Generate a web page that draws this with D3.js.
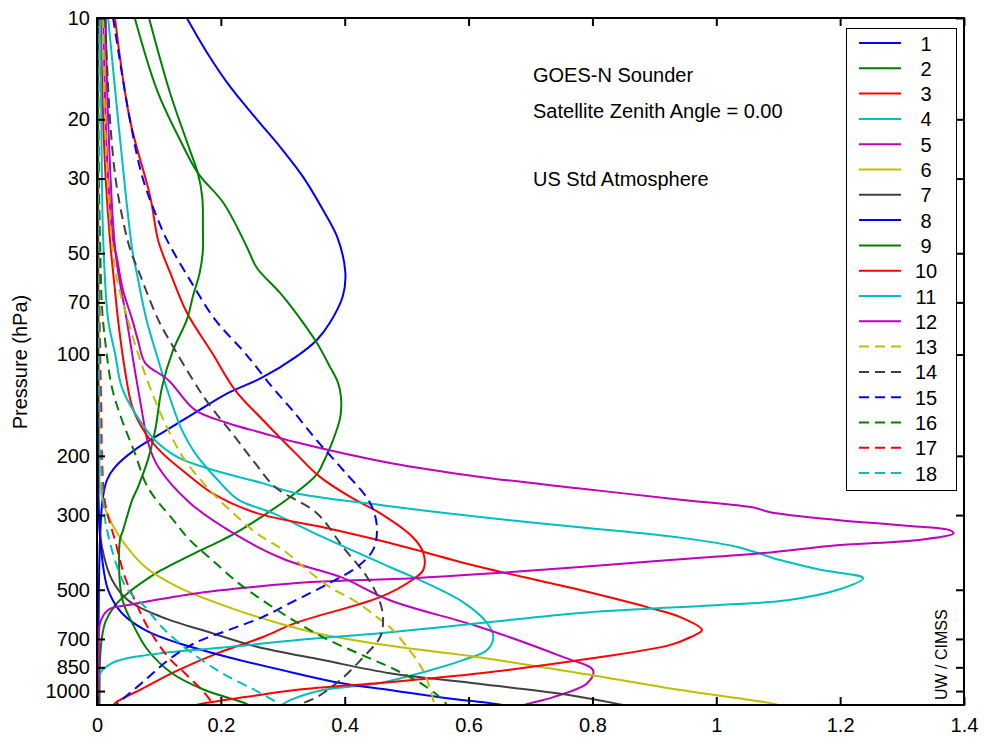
<!DOCTYPE html>
<html>
<head>
<meta charset="utf-8">
<script src="https://d3js.org/d3.v7.min.js"></script>
<style>
  body { margin: 0; background: #fff; }
  text { font-family: "Liberation Sans", Arial, sans-serif; fill: #000; }
</style>
</head>
<body>
<svg width="984" height="740"></svg>
<script>
// weighting functions, [pressure hPa, weight] pairs
var ch1 = [[10,0.145],[12.7,0.178],[16,0.215],[20,0.258],[24.2,0.296],[29.7,0.333],[37.2,0.365],[44.8,0.388],[57,0.401],[67,0.397],[80.5,0.376],[90.5,0.355],[102,0.320],[117,0.267],[130,0.212],[149,0.158],[171,0.105],[192,0.061],[216,0.029],[236,0.016],[270,0.009],[350,0.005],[500,0.003],[1100,0.002]];
var ch2 = [[10,0.061],[16.4,0.097],[23,0.134],[28.9,0.163],[35.4,0.204],[47.9,0.242],[55.2,0.258],[65.7,0.296],[80.5,0.333],[92.3,0.355],[108.6,0.376],[121,0.389],[134,0.394],[153,0.393],[180,0.381],[210,0.365],[227,0.355],[265,0.312],[333,0.231],[356,0.202],[389,0.158],[436,0.105],[458,0.086],[511,0.050],[560,0.028],[620,0.014],[692,0.008],[800,0.005],[1100,0.004]];
var ch3 = [[10,0.029],[20,0.053],[34,0.086],[46,0.099],[57,0.118],[75,0.145],[99,0.186],[127.5,0.223],[156,0.267],[196,0.320],[231,0.360],[265,0.409],[296,0.457],[349,0.510],[389,0.527],[436,0.527],[466,0.510],[526,0.457],[628,0.320],[692,0.267],[771,0.195],[867,0.131],[973,0.078],[1086,0.029],[1100,0.027]];
var ch4 = [[10,0.018],[20,0.034],[49,0.057],[57,0.064],[79,0.080],[104,0.099],[130,0.115],[167.5,0.137],[196,0.158],[236,0.195],[270,0.228],[296,0.284],[349,0.365],[428,0.473],[458,0.510],[544,0.591],[628,0.630],[692,0.640],[755,0.630],[809,0.591],[867,0.538],[946,0.457],[993,0.365],[1064,0.312],[1100,0.298]];
var ch5 = [[10,0.014],[20,0.018],[50,0.030],[79,0.048],[111,0.061],[149,0.073],[182,0.082],[216,0.099],[276,0.150],[349,0.231],[408,0.305],[458,0.393],[537,0.473],[646,0.619],[793,0.753],[867,0.801],[946,0.792],[1042,0.737],[1086,0.700],[1100,0.690]];
var ch6 = [[10,0.002],[100,0.003],[200,0.004],[248,0.005],[296,0.016],[349,0.037],[428,0.078],[491,0.131],[563,0.212],[628,0.292],[673,0.355],[730,0.465],[795,0.619],[885,0.780],[993,0.942],[1086,1.087],[1100,1.100]];
var ch7 = [[10,0.001],[200,0.002],[300,0.003],[373,0.008],[466,0.024],[537,0.050],[603,0.105],[673,0.186],[740,0.260],[809,0.365],[885,0.473],[946,0.605],[1014,0.740],[1086,0.835],[1100,0.850]];
var ch8 = [[10,0.001],[300,0.003],[400,0.008],[501,0.018],[586,0.040],[659,0.078],[720,0.131],[793,0.212],[885,0.320],[946,0.393],[993,0.473],[1050,0.565],[1086,0.635],[1100,0.655]];
var ch9 = [[10,0.084],[16.7,0.118],[24.7,0.150],[29,0.163],[34.1,0.170],[42,0.171],[48.9,0.171],[57,0.166],[67,0.155],[78.9,0.145],[96.9,0.123],[125,0.105],[167.5,0.094],[206,0.082],[248,0.066],[270,0.057],[333,0.042],[356,0.037],[526,0.040],[628,0.057],[755,0.082],[885,0.121],[993,0.174],[1086,0.239],[1100,0.245]];
var ch10 = [[10,0.006],[20,0.010],[30,0.014],[45.7,0.021],[64.4,0.029],[78.9,0.034],[111,0.045],[143,0.057],[171,0.078],[196,0.105],[224,0.142],[258,0.186],[296,0.258],[326,0.365],[363,0.473],[428,0.619],[501,0.780],[563,0.888],[603,0.942],[659,0.977],[692,0.958],[729,0.926],[809,0.780],[885,0.619],[927,0.510],[946,0.457],[993,0.320],[1042,0.239],[1086,0.174],[1100,0.160]];
var ch11 = [[10,0.005],[20,0.007],[30,0.008],[45.7,0.010],[78.9,0.018],[99,0.029],[125,0.040],[149,0.061],[180,0.094],[202,0.131],[220,0.186],[241,0.267],[258,0.320],[280,0.457],[304,0.619],[326,0.780],[350,0.942],[373,1.034],[408,1.103],[436,1.168],[462,1.237],[501,1.195],[537,1.115],[555,1.006],[563,0.942],[586,0.780],[628,0.619],[673,0.457],[706,0.320],[740,0.212],[771,0.105],[798,0.050],[826,0.024],[885,0.005],[1100,0.002]];
var ch12 = [[10,0.010],[20,0.014],[30,0.018],[45.7,0.026],[51.5,0.032],[64.4,0.042],[78.9,0.057],[90.5,0.066],[106,0.078],[119,0.115],[146,0.158],[160,0.212],[171,0.267],[182,0.320],[210,0.473],[231,0.619],[250,0.780],[270,0.942],[285,1.060],[294,1.087],[310,1.195],[322,1.302],[333,1.378],[340,1.383],[355,1.330],[369,1.195],[389,1.076],[408,0.926],[428,0.780],[446,0.646],[462,0.510],[475,0.340],[491,0.250],[511,0.165],[540,0.085],[555,0.050],[574,0.018],[628,0.005],[800,0.003],[1100,0.002]];
var ch13 = [[10,0.010],[20,0.013],[30,0.017],[57,0.030],[78.9,0.050],[99,0.066],[130,0.089],[167.5,0.115],[206,0.142],[255,0.184],[296,0.220],[340,0.258],[380,0.300],[436,0.339],[491,0.376],[545,0.420],[603,0.452],[646,0.473],[729,0.498],[840,0.522],[927,0.533],[1064,0.543],[1100,0.545]];
var ch14 = [[10,0.013],[20,0.021],[30,0.030],[40,0.042],[49,0.054],[57,0.068],[78.9,0.099],[96.9,0.126],[121.6,0.158],[139,0.179],[176,0.223],[210,0.255],[248,0.288],[296,0.355],[373,0.397],[458,0.436],[544,0.457],[615,0.462],[692,0.457],[793,0.430],[927,0.393],[1042,0.355],[1086,0.333],[1100,0.328]];
var ch15 = [[10,0.026],[20,0.053],[30,0.074],[40,0.099],[45.7,0.113],[60,0.150],[78.9,0.191],[99,0.239],[125,0.283],[146,0.315],[180,0.355],[220,0.397],[276,0.441],[326,0.452],[380,0.446],[428,0.420],[477,0.376],[550,0.310],[603,0.267],[659,0.212],[720,0.158],[809,0.115],[927,0.078],[1086,0.034],[1100,0.031]];
var ch16 = [[10,0.002],[30,0.003],[46,0.005],[72,0.008],[90.5,0.013],[125,0.024],[156,0.040],[196,0.061],[248,0.082],[310,0.123],[356,0.150],[408,0.186],[477,0.228],[537,0.267],[603,0.309],[692,0.365],[793,0.436],[849,0.473],[946,0.522],[1064,0.559],[1100,0.565]];
var ch17 = [[10,0.001],[30,0.002],[50,0.003],[100,0.005],[150,0.007],[200,0.008],[276,0.013],[356,0.029],[458,0.045],[537,0.061],[646,0.082],[793,0.115],[885,0.142],[1014,0.174],[1086,0.186],[1100,0.188]];
var ch18 = [[10,0.001],[100,0.003],[200,0.006],[300,0.012],[356,0.020],[440,0.035],[501,0.050],[563,0.078],[646,0.105],[755,0.147],[885,0.202],[993,0.255],[1086,0.292],[1100,0.296]];

var channels = [ch1,ch2,ch3,ch4,ch5,ch6,ch7,ch8,ch9,ch10,ch11,ch12,ch13,ch14,ch15,ch16,ch17,ch18];
var channelNames = ["1","2","3","4","5","6","7","8","9","10","11","12","13","14","15","16","17","18"];
var pressureTicks = [10,20,30,50,70,100,200,300,500,700,850,1000];
var weightTicks = [0,0.2,0.4,0.6,0.8,1,1.2,1.4];
var notes = ["GOES-N Sounder","Satellite Zenith Angle = 0.00","US Std Atmosphere"];

// matlab style colour order, solid for 1-12 and dashed after
var colors = ["#0000ff","#008000","#ff0000","#00bfbf","#bf00bf","#bfbf00","#404040"];

var svg = d3.select("svg");
var plotLeft = 97, plotRight = 964, plotTop = 18, plotBottom = 705;

var x = d3.scaleLinear().domain([0,1.4]).range([plotLeft,plotRight]);
var y = d3.scaleLog().domain([10,1100]).range([plotTop,plotBottom]);

svg.append("clipPath").attr("id","plotclip")
  .append("rect").attr("x",plotLeft).attr("y",plotTop)
  .attr("width",plotRight-plotLeft).attr("height",plotBottom-plotTop);

var line = d3.line()
  .x(function(d){ return x(d[1]); })
  .y(function(d){ return y(d[0]); })
  .curve(d3.curveCatmullRom.alpha(0.5));

var gLines = svg.append("g").attr("clip-path","url(#plotclip)");
gLines.selectAll("path")
  .data(channels).enter().append("path")
  .attr("d", line)
  .attr("fill","none")
  .attr("stroke", function(d,i){ return colors[i % 7]; })
  .attr("stroke-width", 2)
  .attr("stroke-dasharray", function(d,i){ return i >= 12 ? "10,6" : null; });

// axes, ticks point inward
var fmt = function(d){ return d === 0 ? "0" : d3.format("")(d); };
var gx = svg.append("g").attr("transform","translate(0,"+plotBottom+")")
  .call(d3.axisBottom(x).tickValues(weightTicks).tickFormat(fmt).tickSizeInner(-8).tickSizeOuter(0).tickPadding(13));
var gxt = svg.append("g").attr("transform","translate(0,"+plotTop+")")
  .call(d3.axisTop(x).tickValues(weightTicks).tickFormat("").tickSizeInner(-8).tickSizeOuter(0));
var gy = svg.append("g").attr("transform","translate("+plotLeft+",0)")
  .call(d3.axisLeft(y).tickValues(pressureTicks).tickFormat(d3.format("d")).tickSizeInner(-8).tickSizeOuter(0).tickPadding(7));
var gyr = svg.append("g").attr("transform","translate("+plotRight+",0)")
  .call(d3.axisRight(y).tickValues(pressureTicks).tickFormat("").tickSizeInner(-8).tickSizeOuter(0));

[gx,gxt,gy,gyr].forEach(function(g){
  g.select(".domain").remove();
  g.selectAll(".tick line").attr("stroke","#000").attr("stroke-width",2);
  g.selectAll(".tick text").style("font-size","20px").attr("fill","#000")
    .style("font-family","'Liberation Sans', Arial, sans-serif");
});

svg.append("rect")
  .attr("x",plotLeft).attr("y",plotTop)
  .attr("width",plotRight-plotLeft).attr("height",plotBottom-plotTop)
  .attr("fill","none").attr("stroke","#000").attr("stroke-width",2);

// y label
svg.append("text")
  .attr("transform","translate(27,362) rotate(-90)")
  .attr("text-anchor","middle")
  .style("font-size","20px")
  .text("Pressure (hPa)");

// notes
var noteY = [82,118,186];
svg.selectAll("text.note")
  .data(notes).enter().append("text")
  .attr("class","note")
  .attr("x",533)
  .attr("y",function(d,i){ return noteY[i]; })
  .style("font-size","20px")
  .text(function(d){ return d; });

svg.append("text")
  .attr("transform","translate(947,700) rotate(-90)")
  .style("font-size","16px")
  .text("UW / CIMSS");

// legend
var gLeg = svg.append("g");
gLeg.append("rect")
  .attr("x",846.5).attr("y",28.5).attr("width",110).attr("height",462)
  .attr("fill","#fff").attr("stroke","#000").attr("stroke-width",1);
var legY = function(i){ return 43 + i*25.3; };
gLeg.selectAll("line")
  .data(channelNames).enter().append("line")
  .attr("x1",859).attr("x2",901)
  .attr("y1",function(d,i){ return legY(i); })
  .attr("y2",function(d,i){ return legY(i); })
  .attr("stroke",function(d,i){ return colors[i % 7]; })
  .attr("stroke-width",2)
  .attr("stroke-dasharray",function(d,i){ return i >= 12 ? "10,6" : null; });
gLeg.selectAll("text")
  .data(channelNames).enter().append("text")
  .attr("x",926)
  .attr("y",function(d,i){ return legY(i)+7.5; })
  .attr("text-anchor","middle")
  .style("font-size","20px")
  .text(function(d){ return d; });
</script>
</body>
</html>
